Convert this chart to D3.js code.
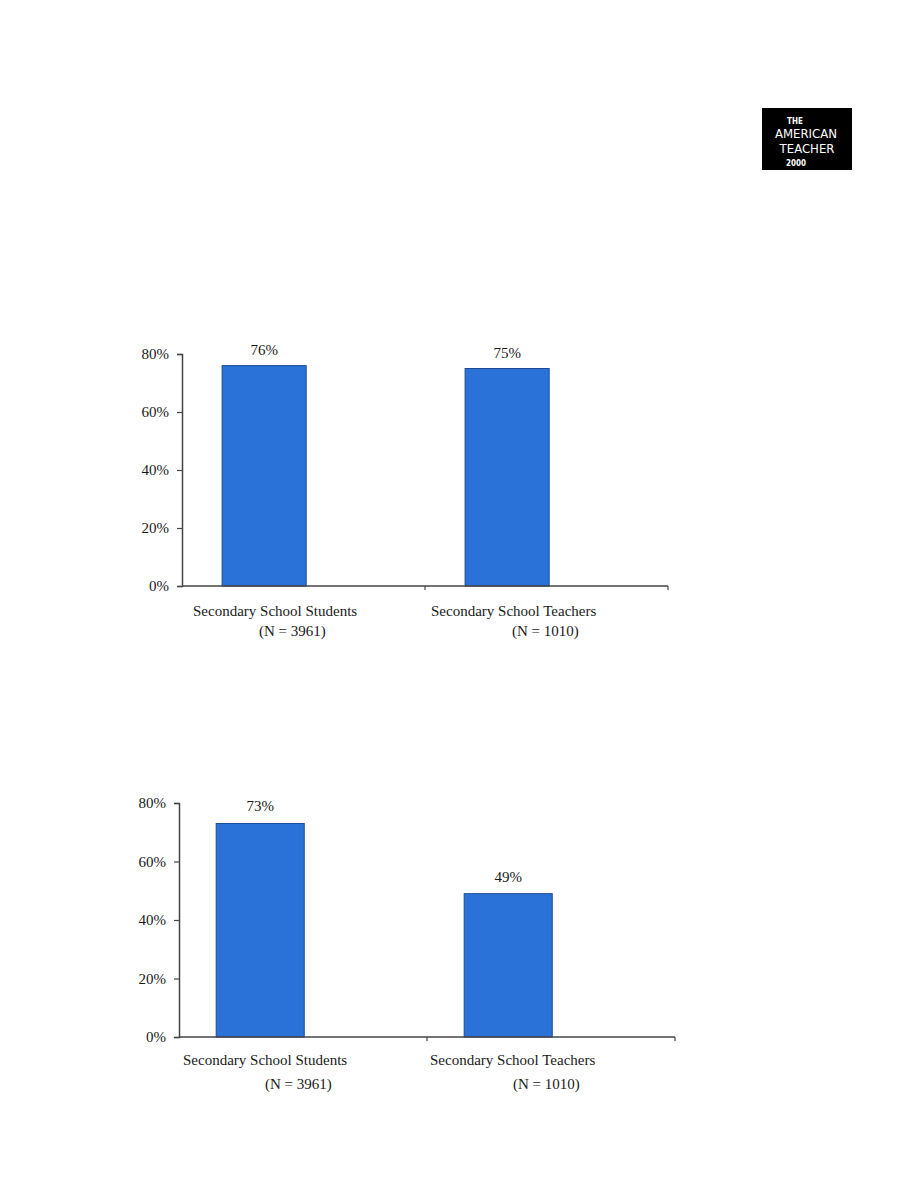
<!DOCTYPE html>
<html>
<head>
<meta charset="utf-8">
<script src="https://cdn.jsdelivr.net/npm/d3@7"></script>
<style>
  html, body { margin: 0; padding: 0; background: #fff; }
  svg { display: block; }
</style>
</head>
<body>
<svg id="page" width="918" height="1188"></svg>
<script>
// ---- data ----
const categories = ["Secondary School Students", "Secondary School Teachers"];
const sampleLabels = ["(N = 3961)", "(N = 1010)"];
const chart1Values = [76, 75];
const chart2Values = [73, 49];
const yTicks = [0, 20, 40, 60, 80];
const logoLines = ["THE", "AMERICAN", "TEACHER", "2000"];

const svg = d3.select("#page");
const FONT = "'Liberation Serif', 'Times New Roman', serif";
const BAR_FILL = "#2a72d8";
const BAR_STROKE = "#1d4a94";
const TEXT = "#1a1a1a";

function drawChart(cfg, values) {
  const g = svg.append("g");
  const x = d3.scaleBand().domain(categories).range([cfg.left, cfg.right]).padding(0);
  const y = d3.scaleLinear().domain([0, 80]).range([cfg.bottom, cfg.top]);
  const bw = x.bandwidth();

  // bars
  g.selectAll("rect.bar").data(values).join("rect")
    .attr("class", "bar")
    .attr("x", (d, i) => x(categories[i]) + bw * cfg.barOffset)
    .attr("width", bw * cfg.barWidth)
    .attr("y", d => y(d))
    .attr("height", d => y(0) - y(d))
    .attr("fill", BAR_FILL)
    .attr("stroke", BAR_STROKE)
    .attr("stroke-width", 1);

  // value labels
  g.selectAll("text.val").data(values).join("text")
    .attr("class", "val")
    .attr("x", (d, i) => x(categories[i]) + bw * (cfg.barOffset + cfg.barWidth / 2))
    .attr("y", d => y(d) - cfg.valGap)
    .attr("text-anchor", "middle")
    .attr("font-family", FONT)
    .attr("font-size", 15)
    .attr("fill", TEXT)
    .text(d => d + "%");

  // y axis
  const yAxis = d3.axisLeft(y).tickValues(yTicks).tickFormat(d => d + "%").tickSize(5).tickPadding(8);
  const ya = g.append("g").attr("transform", `translate(${cfg.left},0)`).call(yAxis);
  ya.select(".domain").attr("stroke", "#444").attr("stroke-width", 1.5);
  ya.selectAll(".tick line").attr("stroke", "#444").attr("stroke-width", 1.2);
  ya.selectAll(".tick text").attr("font-family", FONT).attr("font-size", 15).attr("fill", TEXT);

  // x axis line with category boundary ticks
  g.append("line")
    .attr("x1", cfg.left).attr("x2", cfg.right)
    .attr("y1", y(0)).attr("y2", y(0))
    .attr("stroke", "#444").attr("stroke-width", 1.5);
  const bounds = [x(categories[1]), cfg.right];
  g.selectAll("line.xt").data(bounds).join("line")
    .attr("class", "xt")
    .attr("x1", d => d).attr("x2", d => d)
    .attr("y1", y(0)).attr("y2", y(0) + 4)
    .attr("stroke", "#444").attr("stroke-width", 1.2);

  // category labels
  categories.forEach((c, i) => {
    g.append("text")
      .attr("x", x(c) + cfg.labelOffsets[i])
      .attr("y", y(0) + cfg.label1dy)
      .attr("font-family", FONT).attr("font-size", 15).attr("fill", TEXT)
      .text(c);
    g.append("text")
      .attr("x", x(c) + cfg.nOffsets[i])
      .attr("y", y(0) + cfg.label2dy)
      .attr("font-family", FONT).attr("font-size", 15).attr("fill", TEXT)
      .text(sampleLabels[i]);
  });
}

drawChart({
  left: 182, right: 668, top: 354, bottom: 586,
  barOffset: 0.165, barWidth: 0.346, valGap: 11,
  labelOffsets: [11, 6], nOffsets: [77, 87],
  label1dy: 30, label2dy: 50
}, chart1Values);

drawChart({
  left: 179, right: 675, top: 803, bottom: 1037,
  barOffset: 0.15, barWidth: 0.355, valGap: 12,
  labelOffsets: [4, 3], nOffsets: [86, 86],
  label1dy: 28, label2dy: 52
}, chart2Values);

// ---- logo ----
const logo = svg.append("g");
logo.append("rect").attr("x", 762).attr("y", 108).attr("width", 90).attr("height", 62).attr("fill", "#000");
const logoSpec = [
  { cx: 795, cy: 121, size: 8 },
  { cx: 806, cy: 134, size: 13 },
  { cx: 807, cy: 149, size: 13 },
  { cx: 796, cy: 163, size: 8 }
];
logo.selectAll("text").data(logoLines).join("text")
  .attr("x", (d, i) => logoSpec[i].cx)
  .attr("y", (d, i) => logoSpec[i].cy)
  .attr("text-anchor", "middle")
  .attr("dominant-baseline", "middle")
  .attr("font-family", "'DejaVu Sans Condensed', 'DejaVu Sans', sans-serif")
  .attr("font-size", (d, i) => logoSpec[i].size)
  .attr("font-weight", (d, i) => (i === 0 || i === 3) ? "bold" : "normal")
  .attr("fill", "#fff")
  .text(d => d);
</script>
</body>
</html>
